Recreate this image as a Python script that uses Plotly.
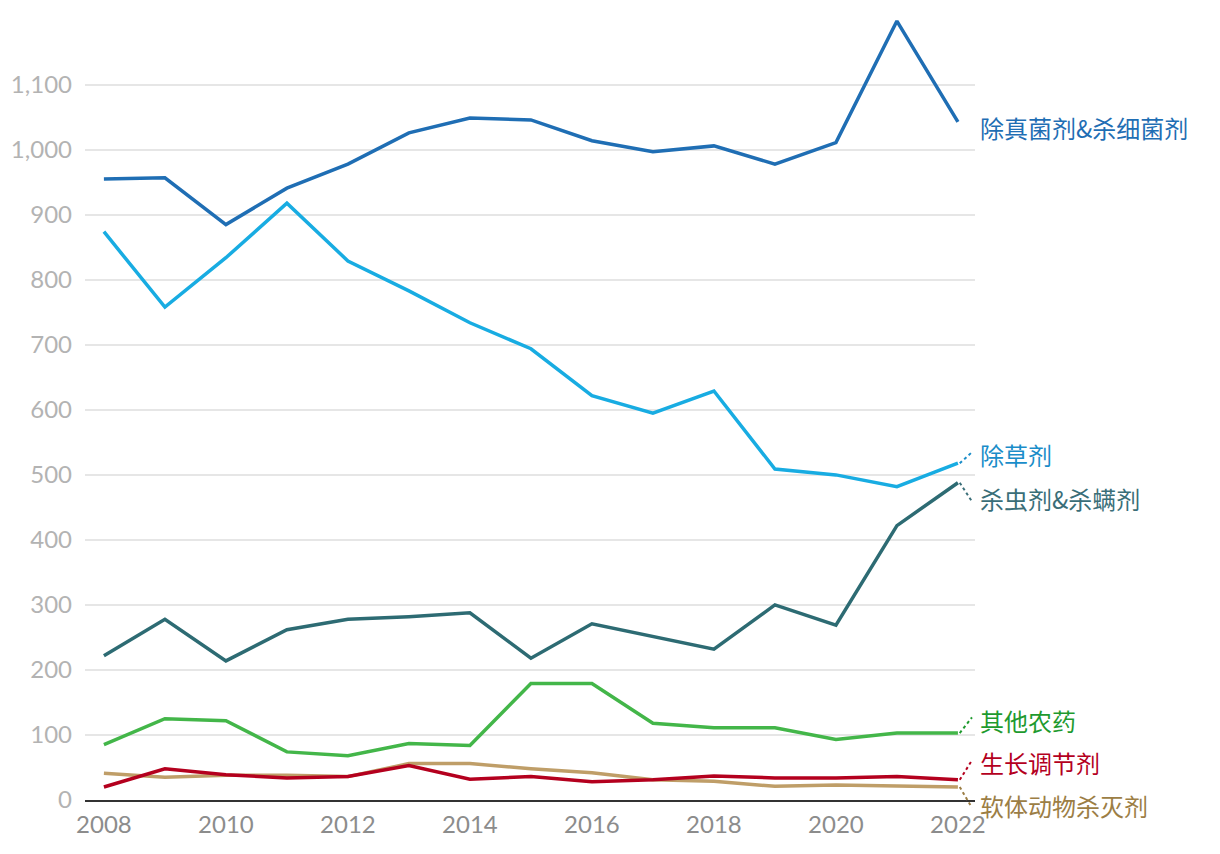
import plotly.graph_objects as go

years = list(range(2008, 2023))

series_names = ["除真菌剂&杀细菌剂", "除草剂", "杀虫剂&杀螨剂", "其他农药", "生长调节剂", "软体动物杀灭剂"]

fungicides = [955, 957, 885, 941, 978, 1026, 1049, 1046, 1014, 997, 1006, 978, 1011, 1198, 1043]
herbicides = [874, 758, 834, 918, 829, 783, 734, 694, 622, 595, 629, 509, 500, 482, 518]
insecticides = [222, 278, 214, 262, 278, 282, 288, 218, 271, 252, 232, 300, 269, 422, 488]
others = [85, 125, 122, 74, 68, 87, 84, 179, 179, 118, 111, 111, 93, 103, 103]
regulators = [20, 48, 39, 34, 36, 53, 32, 36, 28, 31, 37, 34, 34, 36, 31]
molluscicides = [41, 35, 38, 38, 36, 56, 56, 48, 42, 31, 29, 21, 23, 22, 20]

line_colors = ["#1f6eb4", "#18ace2", "#2d6b73", "#43b649", "#b4001e", "#bf9e68"]
label_colors = ["#1f6eb4", "#1a8dc9", "#3a6e78", "#1e9a2e", "#b4001e", "#9c7e45"]
# label vertical positions (data units) used to avoid overlap at the right edge
label_y = [1034, 531, 463, 123, 57, -8]

all_series = [fungicides, herbicides, insecticides, others, regulators, molluscicides]

X_MIN, X_MAX = 2007.69, 2022.28
Y_MIN, Y_MAX = 0, 1215


def px(x):
    return (x - X_MIN) / (X_MAX - X_MIN)


def py(y):
    return (y - Y_MIN) / (Y_MAX - Y_MIN)


fig = go.Figure()

order = [5, 4, 3, 2, 1, 0]
for i in order:
    fig.add_trace(go.Scatter(
        x=years, y=all_series[i], mode="lines", name=series_names[i],
        line=dict(color=line_colors[i], width=3.5), hoverinfo="x+y+name",
    ))

for i, name in enumerate(series_names):
    last = all_series[i][-1]
    if abs(label_y[i] - last) > 12:
        end_y = label_y[i] + (4 if label_y[i] > last else -4)
        fig.add_shape(
            type="line", xref="paper", yref="paper",
            x0=px(years[-1] + 0.03), y0=py(last),
            x1=px(years[-1] + 0.23), y1=py(end_y),
            line=dict(color=label_colors[i], width=2, dash="dot"),
        )
    fig.add_annotation(
        x=1.0035, y=py(label_y[i]), xref="paper", yref="paper",
        text=name, showarrow=False, xanchor="left", yanchor="middle",
        font=dict(family="Noto Sans CJK SC", size=24, color=label_colors[i]),
    )

fig.update_layout(
    width=1212, height=846,
    margin=dict(l=77, r=245, t=2, b=54),
    paper_bgcolor="white", plot_bgcolor="white",
    showlegend=False,
    font=dict(family="Lato, Noto Sans CJK SC", size=22),
)
fig.update_xaxes(
    range=[X_MIN, X_MAX], tickmode="array", tickvals=list(range(2008, 2023, 2)),
    ticktext=[str(y) for y in range(2008, 2023, 2)],
    showgrid=False, zeroline=False, showline=True, linecolor="#333333", linewidth=2,
    tickfont=dict(color="#8c8c8c", size=24, family="Lato"), ticks="", ticklabelstandoff=2,
)
fig.update_yaxes(
    range=[Y_MIN, Y_MAX], tickmode="array", tickvals=list(range(0, 1101, 100)),
    tickformat=",d", showgrid=True, gridcolor="#e6e6e6", gridwidth=1.5, zeroline=False,
    tickfont=dict(color="#b3b3b3", size=24, family="Lato"), ticks="", ticklabelstandoff=12,
)

fig.write_html("out.html")
